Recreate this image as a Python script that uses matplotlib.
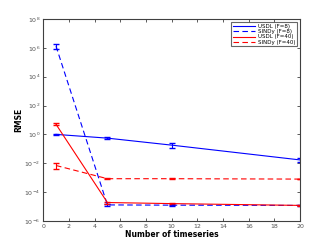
import numpy as np
import matplotlib
matplotlib.use('Agg')
import matplotlib.pyplot as plt
from matplotlib.lines import Line2D

n_series = [1, 5, 10, 20]

usdl_f8 = [1.0, 0.55, 0.18, 0.017]
usdl_f8_err = [0.05, 0.06, 0.06, 0.005]
sindy_f8 = [1.3e6, 1.3e-5, 1.25e-5, 1.2e-5]
sindy_f8_err = [0.5e6, 0.2e-5, 0.1e-5, 0.05e-5]
usdl_f40 = [5.0, 1.9e-5, 1.6e-5, 1.2e-5]
usdl_f40_err = [0.8, 0.3e-5, 0.2e-5, 0.1e-5]
sindy_f40 = [7e-3, 8.5e-4, 8.5e-4, 8e-4]
sindy_f40_err = [3e-3, 0.5e-4, 0.3e-4, 0.3e-4]

labels = ['USDL (F=8)', 'SINDy (F=8)', 'USDL (F=40)', 'SINDy (F=40)']

fig = plt.figure(figsize=(3.32, 2.49), dpi=100)
ax = fig.add_axes([0.13, 0.1125, 0.774, 0.8115])

lw = 0.8
ax.errorbar(n_series, usdl_f8, yerr=usdl_f8_err, color='b', ls='-', lw=lw, elinewidth=lw, capsize=2)
ax.errorbar(n_series, sindy_f8, yerr=sindy_f8_err, color='b', ls='--', lw=lw, elinewidth=lw, capsize=2, dashes=(5, 3))
ax.errorbar(n_series, usdl_f40, yerr=usdl_f40_err, color='r', ls='-', lw=lw, elinewidth=lw, capsize=2)
ax.errorbar(n_series, sindy_f40, yerr=sindy_f40_err, color='r', ls='--', lw=lw, elinewidth=lw, capsize=2, dashes=(5, 3))

handles = [
    Line2D([], [], color='b', ls='-', lw=lw),
    Line2D([], [], color='b', ls='--', lw=lw, dashes=(5, 3)),
    Line2D([], [], color='r', ls='-', lw=lw),
    Line2D([], [], color='r', ls='--', lw=lw, dashes=(5, 3)),
]

ax.set_yscale('log')
ax.set_xlim(0, 20)
ax.set_ylim(1e-6, 1e8)
ax.set_xticks(range(0, 21, 2))
ax.set_yticks([1e-6, 1e-4, 1e-2, 1e0, 1e2, 1e4, 1e6, 1e8])
ax.minorticks_off()
ax.tick_params(direction='in', top=True, right=True, labelsize=4.5, length=2.5, width=0.6, colors='#404040', labelcolor='#505050', pad=2)
for s in ax.spines.values():
    s.set_color('#404040')
    s.set_linewidth(0.8)

ax.set_xlabel('Number of timeseries', fontsize=5.5, fontweight='bold', labelpad=1)
ax.set_ylabel('RMSE', fontsize=5.5, fontweight='bold', labelpad=1)

leg = ax.legend(handles, labels, loc='upper right', fontsize=4, frameon=True, fancybox=False, handlelength=4,
                borderpad=0.3, labelspacing=0.05, handletextpad=0.5, borderaxespad=0.6)
leg.get_frame().set_edgecolor('#404040')
leg.get_frame().set_linewidth(0.8)

fig.savefig('out.png', dpi=100)
